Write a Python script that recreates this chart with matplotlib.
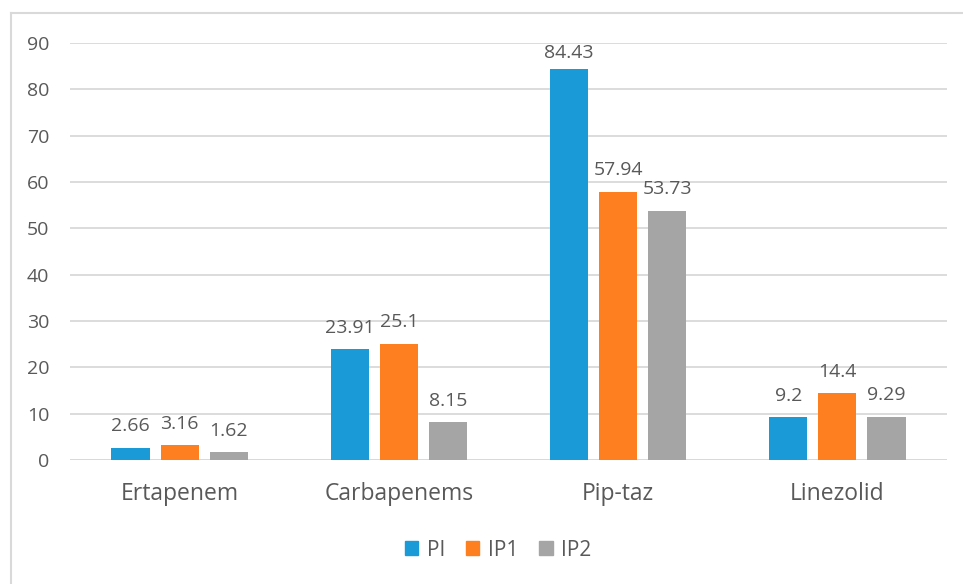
import matplotlib
matplotlib.use("Agg")
import matplotlib.pyplot as plt
import numpy as np
from matplotlib.lines import Line2D
from matplotlib.patches import Rectangle

categories = ["Ertapenem", "Carbapenems", "Pip-taz", "Linezolid"]
series_names = ["PI", "IP1", "IP2"]
pi_vals = [2.66, 23.91, 84.43, 9.2]
ip1_vals = [3.16, 25.1, 57.94, 14.4]
ip2_vals = [1.62, 8.15, 53.73, 9.29]
labels_pi = ["2.66", "23.91", "84.43", "9.2"]
labels_ip1 = ["3.16", "25.1", "57.94", "14.4"]
labels_ip2 = ["1.62", "8.15", "53.73", "9.29"]
yticks = [0, 10, 20, 30, 40, 50, 60, 70, 80, 90]

colors = ["#1a9bd7", "#fe7f1f", "#a5a5a5"]
txt = "#595959"
plt.rcParams['font.family'] = ['Open Sans', 'DejaVu Sans']

fig = plt.figure(figsize=(9.63, 5.84), dpi=100)
ax = fig.add_axes([70/963, 1-460/584, (947-70)/963, (460-43)/584])

ymax = 90
x = np.arange(len(categories))
w = 0.174
step = 0.224
all_vals = [pi_vals, ip1_vals, ip2_vals]
all_labels = [labels_pi, labels_ip1, labels_ip2]
gap = 3.6          # label baseline gap above bar (data units)
cap = 86.8         # highest baseline keeping label inside plot area
for i, (vals, labs) in enumerate(zip(all_vals, all_labels)):
    pos = x + (i - 1) * step
    ax.bar(pos, vals, width=w, color=colors[i], label=series_names[i], zorder=3)
    for p, v, l in zip(pos, vals, labs):
        ax.text(p, min(v + gap, cap), l, ha="center", va="baseline",
                fontsize=14, color=txt)

ax.set_xlim(-0.5, len(categories) - 0.5)
ax.set_ylim(0, ymax)
ax.set_yticks(yticks)
ax.set_yticklabels([str(t) for t in yticks], fontsize=14, color=txt)
ax.set_xticks(x)
ax.set_xticklabels(categories, fontsize=16.5, color=txt)
ax.tick_params(axis='both', length=0)
ax.tick_params(axis='y', pad=15)
ax.tick_params(axis='x', pad=15.5)
ax.grid(axis='y', color="#d9d9d9", linewidth=1.3, zorder=0)
for s in ax.spines.values():
    s.set_visible(False)
ax.axhline(0, color="#d9d9d9", linewidth=1.3, zorder=2)

handles = [Rectangle((0, 0), 1, 1, color=c) for c in colors]
fig.legend(handles, series_names, loc="center", bbox_to_anchor=(498/963, 1-550/584),
           ncol=3, frameon=False, fontsize=15, handlelength=0.65, handleheight=0.65,
           columnspacing=1.0, handletextpad=0.4, labelcolor=txt)

fig.add_artist(Line2D([11/963, 1.0], [1-13/584, 1-13/584], color="#d9d9d9", linewidth=1.5, transform=fig.transFigure))
fig.add_artist(Line2D([11/963, 11/963], [0.0, 1-13/584], color="#d9d9d9", linewidth=1.5, transform=fig.transFigure))

fig.savefig("out.png", dpi=100)
